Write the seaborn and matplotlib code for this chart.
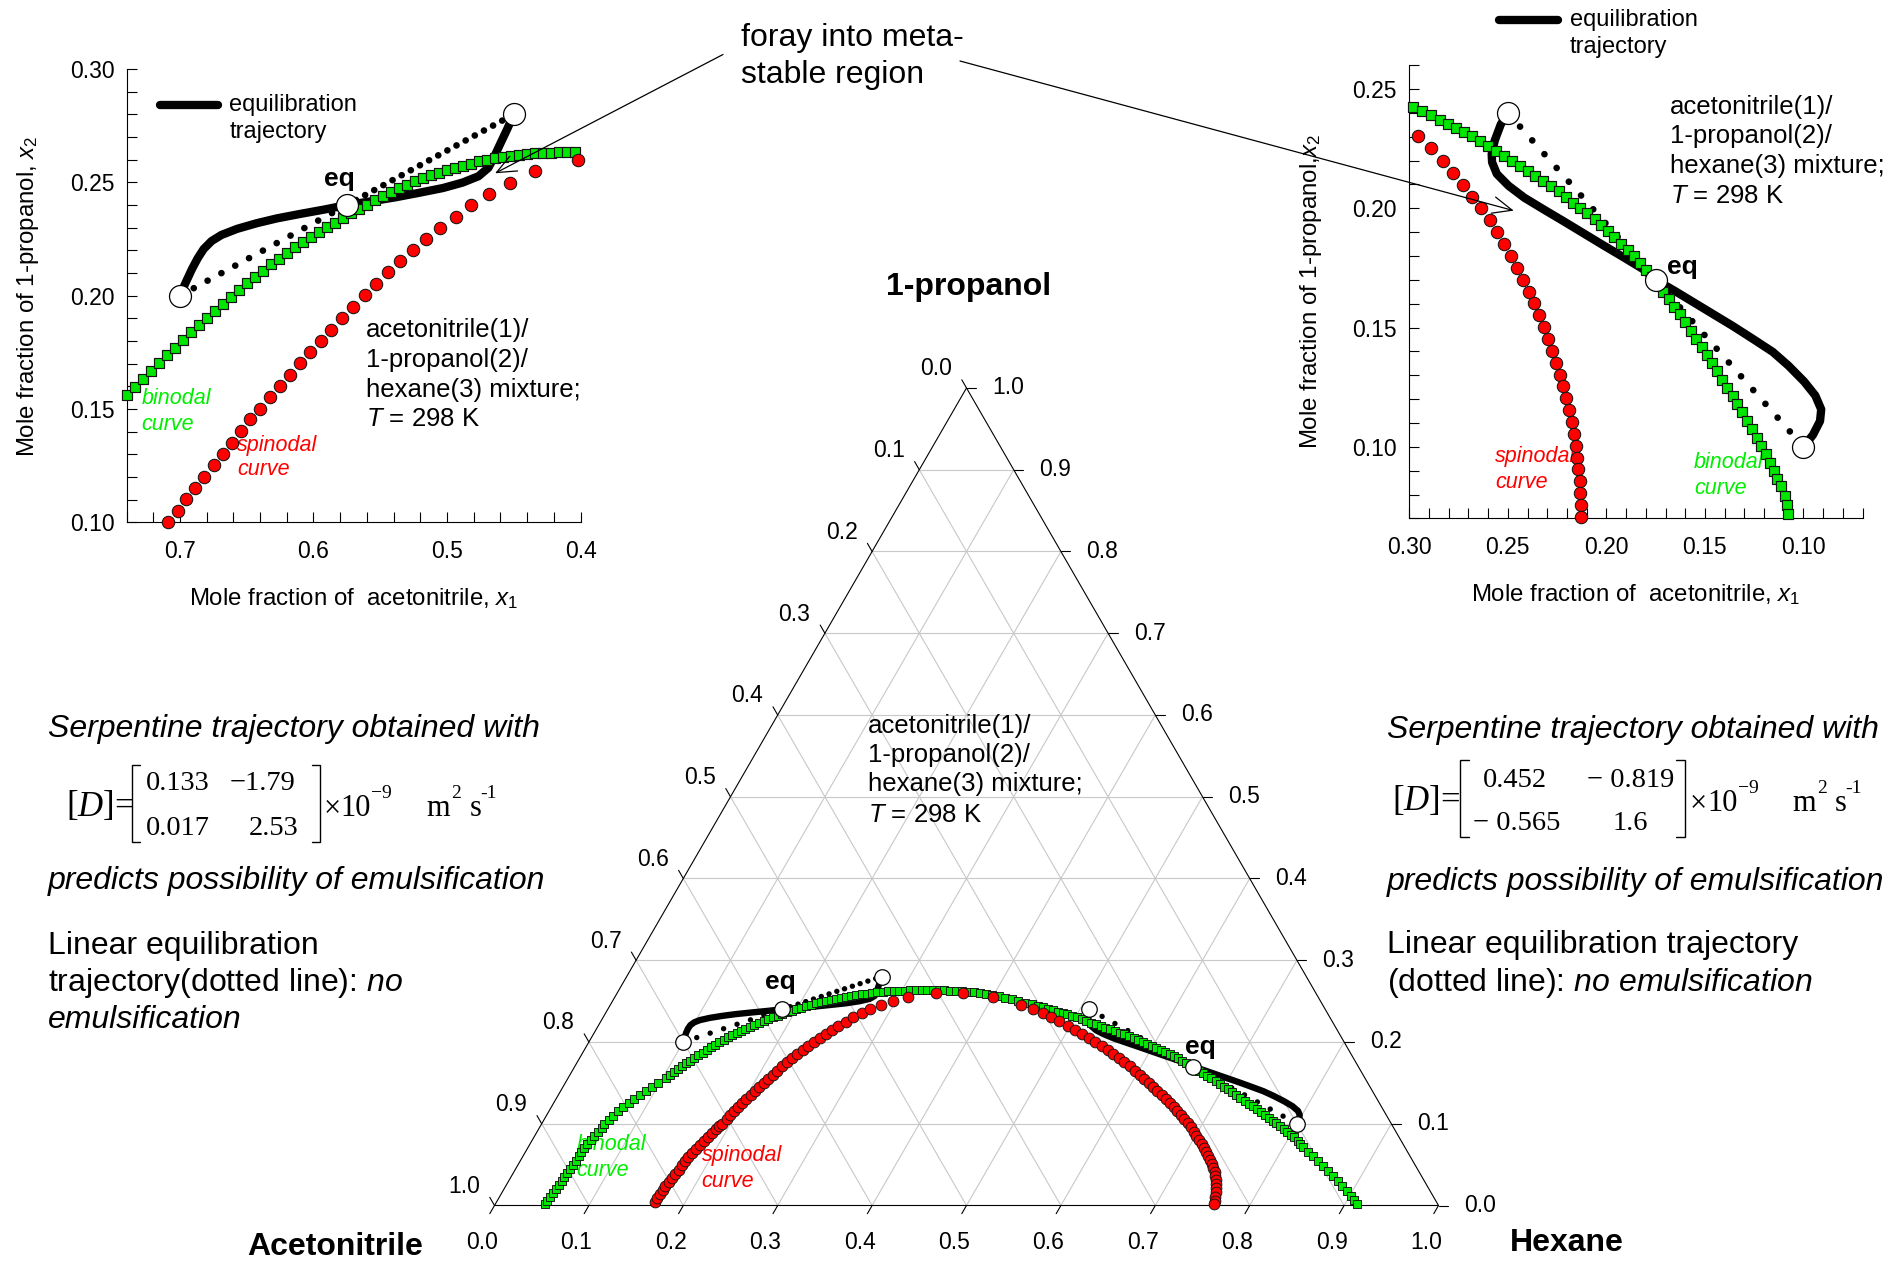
import numpy as np
import pandas as pd
import matplotlib
matplotlib.use("Agg")
import matplotlib.pyplot as plt
from matplotlib.lines import Line2D
from matplotlib.patches import ConnectionPatch
from matplotlib.ticker import MultipleLocator
import seaborn as sns

# ---------------- data (mole fractions x1 = acetonitrile, x2 = 1-propanol) ----------------
binodal_x1 = [0.946, 0.941, 0.936, 0.930, 0.925, 0.919, 0.914, 0.9085, 0.903, 0.897, 0.892, 0.886,
              0.881, 0.876, 0.870, 0.864, 0.858, 0.852, 0.8455, 0.839, 0.8335, 0.8265, 0.8195, 0.812,
              0.804, 0.7955, 0.787, 0.7785, 0.7695, 0.7605, 0.7515,
              0.740, 0.734, 0.728, 0.722, 0.716, 0.710, 0.704, 0.698, 0.692, 0.686, 0.680, 0.674,
              0.668, 0.662, 0.656, 0.650, 0.644, 0.638, 0.632, 0.626, 0.620, 0.614, 0.608, 0.602,
              0.596, 0.590, 0.584, 0.578, 0.572, 0.566, 0.560, 0.554, 0.548, 0.542, 0.536, 0.530,
              0.524, 0.518, 0.512, 0.506, 0.500, 0.494, 0.488, 0.482, 0.476, 0.470, 0.464, 0.458,
              0.452, 0.446, 0.440, 0.434, 0.428, 0.422, 0.416, 0.410, 0.404,
              0.398, 0.392, 0.386, 0.380, 0.374, 0.368, 0.362, 0.356, 0.350, 0.344, 0.338, 0.332,
              0.326, 0.320, 0.314, 0.308, 0.302,
              0.298, 0.2936, 0.289, 0.2846, 0.2806, 0.2762, 0.272, 0.268, 0.264, 0.260, 0.256, 0.252,
              0.248, 0.244, 0.240, 0.236, 0.232, 0.228, 0.224, 0.2204, 0.2168, 0.2132, 0.2096, 0.206,
              0.2026, 0.1992, 0.196, 0.1924, 0.1892, 0.186, 0.183, 0.180, 0.177, 0.174, 0.1712, 0.1684,
              0.1656, 0.1628, 0.160, 0.1572, 0.1544, 0.1516, 0.1492, 0.1466, 0.144, 0.1412, 0.1386,
              0.136, 0.1336, 0.1312, 0.1286, 0.1262, 0.1236, 0.1216, 0.1192, 0.117, 0.1152, 0.1132,
              0.1112, 0.1096, 0.1086, 0.1076,
              0.1055, 0.1030, 0.1005, 0.0980, 0.0957, 0.0935, 0.0915, 0.0897, 0.0882, 0.0870, 0.0862,
              0.0856]
binodal_x2 = [0.002, 0.006, 0.010, 0.015, 0.020, 0.025, 0.030, 0.035, 0.040, 0.045, 0.050, 0.055,
              0.060, 0.065, 0.070, 0.075, 0.080, 0.085, 0.090, 0.095, 0.100, 0.105, 0.110, 0.115,
              0.120, 0.125, 0.130, 0.135, 0.140, 0.145, 0.150,
              0.1563, 0.1598, 0.1633, 0.1668, 0.1703, 0.1737, 0.1771, 0.1805, 0.1838, 0.1871, 0.1903,
              0.1934, 0.1965, 0.1996, 0.2026, 0.2055, 0.2083, 0.2111, 0.2138, 0.2164, 0.2189, 0.2213,
              0.2236, 0.2258, 0.2280, 0.2301, 0.2322, 0.2343, 0.2363, 0.2383, 0.2402, 0.2421, 0.2439,
              0.2456, 0.2473, 0.2489, 0.2504, 0.2518, 0.2531, 0.2543, 0.2554, 0.2564, 0.2574, 0.2583,
              0.2592, 0.2600, 0.2607, 0.2613, 0.2618, 0.2622, 0.2625, 0.2628, 0.2630, 0.2631, 0.2632,
              0.2632, 0.2632,
              0.2631, 0.2630, 0.2628, 0.2625, 0.2621, 0.2615, 0.2608, 0.2599, 0.2588, 0.2575, 0.2560,
              0.2543, 0.2524, 0.2503, 0.2482, 0.2460, 0.2440,
              0.2425, 0.2409, 0.2389, 0.2371, 0.2354, 0.2338, 0.2319, 0.2301, 0.2280, 0.2260, 0.2238,
              0.2218, 0.2197, 0.2177, 0.2155, 0.2134, 0.2114, 0.2094, 0.2071, 0.2047, 0.2024, 0.2003,
              0.1978, 0.1953, 0.1928, 0.1903, 0.1878, 0.1850, 0.1824, 0.1799, 0.1771, 0.1743, 0.1713,
              0.1683, 0.1650, 0.1620, 0.1588, 0.1555, 0.1522, 0.1487, 0.1454, 0.1419, 0.1384, 0.1351,
              0.1318, 0.1282, 0.1245, 0.1212, 0.1179, 0.1144, 0.1108, 0.1075, 0.1038, 0.1005, 0.0970,
              0.0934, 0.0900, 0.0867, 0.0834, 0.0793, 0.0755, 0.0718,
              0.066, 0.060, 0.054, 0.048, 0.042, 0.036, 0.030, 0.024, 0.018, 0.012, 0.007, 0.002]

spinodal_x1 = [0.828, 0.823, 0.818, 0.8125, 0.807, 0.801, 0.795, 0.789, 0.783, 0.777, 0.771, 0.765,
               0.7585, 0.752, 0.7455, 0.739, 0.732, 0.725, 0.718, 0.7135,
               0.7089, 0.7015, 0.6956, 0.6887, 0.6816, 0.6748, 0.6680, 0.6609, 0.6541, 0.6473, 0.6399,
               0.6325, 0.6254, 0.6177, 0.6103, 0.6023, 0.5943, 0.5866, 0.5786, 0.5703, 0.5617, 0.5528,
               0.5439, 0.5351, 0.5256, 0.5155, 0.5052, 0.4936, 0.4818, 0.4682, 0.4528, 0.4344, 0.4018,
               0.3733, 0.3446, 0.3191, 0.3093, 0.3012,
               0.2956, 0.2890, 0.2830, 0.2776, 0.2730, 0.2682, 0.2636, 0.2592, 0.2556, 0.2522, 0.2486,
               0.2456, 0.2422, 0.2392, 0.2366, 0.2340, 0.2316, 0.2296, 0.2276, 0.2256, 0.2236, 0.2220,
               0.2204, 0.2190, 0.2176, 0.2166, 0.2156, 0.2148, 0.2142, 0.2136, 0.2132, 0.2130, 0.2128,
               0.2129, 0.2132, 0.2137, 0.2144, 0.2154, 0.2167, 0.2183, 0.2202, 0.2224, 0.2249, 0.2277,
               0.2308, 0.2342, 0.2372]
spinodal_x2 = [0.004, 0.009, 0.014, 0.019, 0.024, 0.029, 0.034, 0.039, 0.044, 0.049, 0.054, 0.059,
               0.064, 0.069, 0.074, 0.079, 0.084, 0.089, 0.094, 0.097,
               0.1000, 0.1052, 0.1104, 0.1153, 0.1202, 0.1251, 0.1303, 0.1352, 0.1403, 0.1454, 0.1502,
               0.1553, 0.1602, 0.1651, 0.1703, 0.1752, 0.1801, 0.1850, 0.1900, 0.1949, 0.2002, 0.2051,
               0.2103, 0.2152, 0.2201, 0.2250, 0.2300, 0.2349, 0.2398, 0.2450, 0.2499, 0.2548, 0.2600,
               0.2603, 0.2554, 0.2453, 0.2400, 0.2351,
               0.2301, 0.2251, 0.2197, 0.2147, 0.2097, 0.2049, 0.1999, 0.1950, 0.1900, 0.1850, 0.1800,
               0.1751, 0.1701, 0.1651, 0.1602, 0.1552, 0.1502, 0.1452, 0.1403, 0.1353, 0.1303, 0.1254,
               0.1204, 0.1154, 0.1104, 0.1055, 0.1005, 0.0955, 0.0905, 0.0856, 0.0806, 0.0756, 0.0707,
               0.066, 0.061, 0.056, 0.051, 0.046, 0.041, 0.036, 0.031, 0.026, 0.021, 0.016,
               0.011, 0.006, 0.002]

# serpentine equilibration trajectories
traj1_x1 = [0.700, 0.6956, 0.6911, 0.6867, 0.6822, 0.6763, 0.6689, 0.6571, 0.6423, 0.6274, 0.6097,
            0.5919, 0.575, 0.5593, 0.5386, 0.5208, 0.503, 0.4883, 0.4764, 0.469, 0.4646, 0.4601,
            0.4548, 0.450]
traj1_x2 = [0.200, 0.2059, 0.2116, 0.2165, 0.2206, 0.2241, 0.2268, 0.2295, 0.2320, 0.2341, 0.2361,
            0.2380, 0.2400, 0.2414, 0.2434, 0.2454, 0.2475, 0.2499, 0.2527, 0.2564, 0.2613, 0.2670,
            0.2736, 0.2800]
traj2_x1 = [0.250, 0.2536, 0.2566, 0.2582, 0.2580, 0.2556, 0.2496, 0.2416, 0.2316, 0.2216, 0.2116,
            0.2016, 0.1916, 0.1816, 0.175, 0.1656, 0.1556, 0.1456, 0.1356, 0.1256, 0.1156, 0.1076,
            0.0996, 0.0940, 0.0910, 0.0916, 0.0952, 0.100]
traj2_x2 = [0.240, 0.2351, 0.2285, 0.2227, 0.2193, 0.2144, 0.2094, 0.2044, 0.1994, 0.1945, 0.1895,
            0.1845, 0.1796, 0.1746, 0.1700, 0.1655, 0.1605, 0.1555, 0.1505, 0.1452, 0.1398, 0.1340,
            0.1273, 0.1215, 0.1157, 0.1108, 0.1050, 0.100]

# linear trajectories: start, eq, end
lin1_x1 = [0.70, 0.575, 0.45]
lin1_x2 = [0.20, 0.24, 0.28]
lin2_x1 = [0.25, 0.175, 0.10]
lin2_x2 = [0.24, 0.17, 0.10]

left_xticks = [0.7, 0.6, 0.5, 0.4]
left_yticks = [0.10, 0.15, 0.20, 0.25, 0.30]
right_xticks = [0.30, 0.25, 0.20, 0.15, 0.10]
right_yticks = [0.10, 0.15, 0.20, 0.25]
tern_ticks = [0.0, 0.1, 0.2, 0.3, 0.4, 0.5, 0.6, 0.7, 0.8, 0.9, 1.0]
tern_grid = [0.1, 0.2, 0.3, 0.4, 0.5, 0.6, 0.7, 0.8, 0.9]

D_left = [["0.133", "\u22121.79"], ["0.017", "2.53"]]
D_right = [["0.452", "\u2212 0.819"], ["\u2212 0.565", "1.6"]]

# ---------------- style ----------------
W, H, DPI = 1898, 1261, 100
sns.set_theme(style="ticks")
plt.rcParams["font.family"] = ["Liberation Sans", "DejaVu Sans"]
plt.rcParams["mathtext.fontset"] = "custom"
plt.rcParams["mathtext.rm"] = "Liberation Sans"
plt.rcParams["mathtext.it"] = "Liberation Sans:italic"
plt.rcParams["mathtext.bf"] = "Liberation Sans:bold"
for k in ["text.color", "axes.labelcolor", "xtick.color", "ytick.color", "axes.edgecolor"]:
    plt.rcParams[k] = "black"

SERIF = ["Liberation Serif", "DejaVu Serif"]
GREEN = "#00e600"
GTXT = "#00ee00"
RED = "#ff0000"
EDGE = "#141414"

fig = plt.figure(figsize=(W / DPI, H / DPI), dpi=DPI)
fig.patch.set_facecolor("white")


def fx(x):
    return x / W


def fy(y):
    return 1.0 - y / H


def box(l, t, r, b):
    return [fx(l), fy(b), (r - l) / W, (b - t) / H]


def ftext(x, y, s, **kw):
    kw.setdefault("ha", "left")
    kw.setdefault("va", "center")
    return fig.text(fx(x), fy(y), s, **kw)


bino = pd.DataFrame({"x1": binodal_x1, "x2": binodal_x2})
spin = pd.DataFrame({"x1": spinodal_x1, "x2": spinodal_x2})


def in_box(df, xlim, ylim):
    e = 1e-9
    return df[(df.x1 >= min(xlim) - e) & (df.x1 <= max(xlim) + e) &
              (df.x2 >= ylim[0] - e) & (df.x2 <= ylim[1] + e)]


def draw_inset(ax, xlim, ylim, xt, yt, xminor, yminor, xfmt, yfmt,
               tx1, tx2, lx1, lx2, gaps):
    ax.set_xlim(*xlim)
    ax.set_ylim(*ylim)
    b = in_box(bino, xlim, ylim)
    s = in_box(spin, xlim, ylim)
    for i, g in enumerate(gaps):
        ax.plot(lx1[i:i + 2], lx2[i:i + 2], color="black", lw=4.8,
                linestyle=(0, (0.01, g)), dash_capstyle="round", zorder=2, clip_on=False)
    sns.lineplot(x=tx1, y=tx2, sort=False, estimator=None, ax=ax, color="black", lw=6.0,
                 solid_capstyle="round", solid_joinstyle="round", zorder=3)
    sns.scatterplot(x=b.x1.values, y=b.x2.values, ax=ax, marker="s", s=44, color=GREEN,
                    edgecolor=EDGE, linewidth=0.85, zorder=4, clip_on=False, legend=False)
    sns.scatterplot(x=s.x1.values, y=s.x2.values, ax=ax, marker="o", s=80, color=RED,
                    edgecolor=EDGE, linewidth=0.75, zorder=5, clip_on=False, legend=False)
    sns.scatterplot(x=lx1, y=lx2, ax=ax, marker="o", s=250, color="white",
                    edgecolor="black", linewidth=0.9, zorder=6, clip_on=False, legend=False)
    ax.set_xlabel("")
    ax.set_ylabel("")
    ax.set_xticks(xt)
    ax.set_xticklabels([xfmt.format(v) for v in xt])
    ax.set_yticks(yt)
    ax.set_yticklabels([yfmt.format(v) for v in yt])
    ax.xaxis.set_minor_locator(MultipleLocator(xminor))
    ax.yaxis.set_minor_locator(MultipleLocator(yminor))
    ax.tick_params(which="both", direction="in", length=7.5, width=0.8, color="black",
                   labelsize=16.5, labelcolor="black")
    ax.tick_params(axis="x", which="both", pad=12.5)
    ax.tick_params(axis="y", which="both", pad=8.8)
    sns.despine(ax=ax)
    for sp in ["left", "bottom"]:
        ax.spines[sp].set_linewidth(0.8)
        ax.spines[sp].set_color("black")
    ax.patch.set_alpha(0)


# ---------------- left inset ----------------
ax_l = fig.add_axes(box(126.5, 69, 580.5, 522.4))
draw_inset(ax_l, (0.74, 0.40), (0.10, 0.30), left_xticks, left_yticks, 0.02, 0.01,
           "{:.1f}", "{:.2f}", traj1_x1, traj1_x2, lin1_x1, lin1_x2, (2.35, 1.55))
ax_l.text(0.5807, 0.2516, "eq", ha="center", va="center", fontsize=19, fontweight="bold", zorder=7)

# ---------------- right inset ----------------
ax_r = fig.add_axes(box(1409.3, 65.1, 1862.6, 518.4))
draw_inset(ax_r, (0.30, 0.07), (0.07, 0.26), right_xticks, right_yticks, 0.01, 0.01,
           "{:.2f}", "{:.2f}", traj2_x1, traj2_x2, lin2_x1, lin2_x2, (2.75, 2.75))
ax_r.text(0.1616, 0.1754, "eq", ha="center", va="center", fontsize=19, fontweight="bold", zorder=7)

# axis labels of the insets
ftext(353.5, 598.6, r"Mole fraction of  acetonitrile, $x_1$", ha="center", fontsize=17.3)
ftext(28.5, 296, r"Mole fraction of 1-propanol, $x_2$", ha="center", fontsize=17.3, rotation=90)
ftext(1635.6, 595, r"Mole fraction of  acetonitrile, $x_1$", ha="center", fontsize=17.3)
ftext(1310.5, 291.6, r"Mole fraction of 1-propanol,$x_2$", ha="center", fontsize=17.3, rotation=90)


def curve_labels(ax, pos_b, pos_s, size=15.5):
    for (x, y), s in zip(pos_b, ["binodal", "curve"]):
        ax.text(fx(x), fy(y), s, transform=fig.transFigure, color=GTXT, style="italic",
                fontsize=size, ha="left", va="center", zorder=1.5)
    for (x, y), s in zip(pos_s, ["spinodal", "curve"]):
        ax.text(fx(x), fy(y), s, transform=fig.transFigure, color=RED, style="italic",
                fontsize=size, ha="left", va="center", zorder=1.5)


curve_labels(ax_l, [(141.6, 398.9), (141.6, 424.8)], [(237.2, 445.1), (237.2, 469.1)])
curve_labels(ax_r, [(1693.9, 462.6), (1693.9, 488.3)], [(1494.8, 456.7), (1494.8, 482.4)])

# legends "equilibration trajectory"
for (x0, x1_, y, tx, ty1, ty2) in [(160, 217.5, 104.7, 229.3, 104.7, 131.7),
                                   (1498.8, 1557.9, 19.8, 1569.7, 19.8, 47.4)]:
    fig.add_artist(Line2D([fx(x0), fx(x1_)], [fy(y), fy(y)], color="black", lw=6.0,
                          solid_capstyle="round"))
    ftext(tx, ty1, "equilibration", fontsize=17)
    ftext(tx, ty2, "trajectory", fontsize=17)

# mixture text blocks
mix_lines = ["acetonitrile(1)/", "1-propanol(2)/", "hexane(3) mixture;", r"$\mathit{T}$ = 298 K"]
for x0, ys in [(365.8, (330.4, 360.0, 389.6, 419.2)),
               (1670.2, (106.8, 136.4, 166.0, 195.7)),
               (868.0, (726.3, 755.4, 784.4, 814.7))]:
    for y, s in zip(ys, mix_lines):
        ftext(x0, y, s, fontsize=18.5)

# ---------------- ternary diagram ----------------
S3 = np.sqrt(3) / 2
ax_t = fig.add_axes(box(494.5, 1205.5 - 944 * S3, 1438.5, 1205.5))
ax_t.set_xlim(0, 1)
ax_t.set_ylim(0, S3)
ax_t.axis("off")


def txy(x1, x2):
    x1 = np.asarray(x1, dtype=float)
    x2 = np.asarray(x2, dtype=float)
    return 1.0 - x1 - x2 / 2.0, x2 * S3


GRID = "#c8c8c8"
for v in tern_grid:
    for a1, a2 in [([1 - v, 0], [v, v]), ([v, v], [0, 1 - v]), ([1 - v, 0], [0, 1 - v])]:
        X, Y = txy(a1, a2)
        ax_t.plot(X, Y, color=GRID, lw=0.8, zorder=1)
X, Y = txy([1, 0, 0, 1], [0, 0, 1, 0])
ax_t.plot(X, Y, color="black", lw=0.8, zorder=2, clip_on=False)

TL = 0.0100
for v in tern_ticks:
    lab = f"{v:.1f}"
    # bottom axis: hexane fraction
    bx, by = txy(1 - v, 0)
    ax_t.plot([bx, bx - 0.5 * TL], [by, by - S3 * TL], color="black", lw=0.8, clip_on=False)
    ax_t.annotate(lab, xy=(bx, by), xytext=(-9.0, -26.3), textcoords="offset points",
                  ha="center", va="center", fontsize=16.5, annotation_clip=False)
    # left axis: acetonitrile fraction
    lx, ly = txy(v, 1 - v)
    ax_t.plot([lx, lx - 0.5 * TL], [ly, ly + S3 * TL], color="black", lw=0.8, clip_on=False)
    ax_t.annotate(lab, xy=(lx, ly), xytext=(-22.0, 13.7), textcoords="offset points",
                  ha="center", va="center", fontsize=16.5, annotation_clip=False)
    # right axis: 1-propanol fraction
    rx, ry = txy(0, v)
    ax_t.plot([rx, rx + TL], [ry, ry], color="black", lw=0.8, clip_on=False)
    ax_t.annotate(lab, xy=(rx, ry), xytext=(29.9, 0), textcoords="offset points",
                  ha="center", va="center", fontsize=16.5, annotation_clip=False)

for lx1, lx2, gaps in [(lin1_x1, lin1_x2, (2.6, 1.5)), (lin2_x1, lin2_x2, (2.7, 2.7))]:
    X, Y = txy(lx1, lx2)
    for i, g in enumerate(gaps):
        ax_t.plot(X[i:i + 2], Y[i:i + 2], color="black", lw=3.9, linestyle=(0, (0.01, g)),
                  dash_capstyle="round", zorder=2.5, clip_on=False)
for tx1, tx2 in [(traj1_x1, traj1_x2), (traj2_x1, traj2_x2)]:
    X, Y = txy(tx1, tx2)
    sns.lineplot(x=X, y=Y, sort=False, estimator=None, ax=ax_t, color="black", lw=4.6,
                 solid_capstyle="round", solid_joinstyle="round", zorder=3)

bX, bY = txy(bino.x1, bino.x2)
sns.scatterplot(x=bX, y=bY, ax=ax_t, marker="s", s=34, color=GREEN, edgecolor=EDGE,
                linewidth=0.65, zorder=4, clip_on=False, legend=False)
sX, sY = txy(spin.x1, spin.x2)
sns.scatterplot(x=sX, y=sY, ax=ax_t, marker="o", s=60, color=RED, edgecolor=EDGE,
                linewidth=0.65, zorder=5, clip_on=False, legend=False)
for lx1, lx2 in [(lin1_x1, lin1_x2), (lin2_x1, lin2_x2)]:
    X, Y = txy(lx1, lx2)
    sns.scatterplot(x=X, y=Y, ax=ax_t, marker="o", s=125, color="white", edgecolor="black",
                    linewidth=0.9, zorder=6, clip_on=False, legend=False)
for ex1, ex2 in [(0.5607, 0.2738), (0.155, 0.1943)]:
    X, Y = txy(ex1, ex2)
    ax_t.text(float(X), float(Y), "eq", ha="center", va="center", fontsize=19,
              fontweight="bold", zorder=7)
ax_t.set_xlabel("")
ax_t.set_ylabel("")
curve_labels(ax_t, [(576.7, 1145), (576.7, 1170)], [(701.7, 1155), (701.7, 1181.7)])

ftext(968.4, 287, "1-propanol", ha="center", fontsize=23, fontweight="bold")
ftext(247, 1247, "Acetonitrile", fontsize=23, fontweight="bold")
ftext(1510, 1243, "Hexane", fontsize=23, fontweight="bold")

# ---------------- annotation: foray into metastable region ----------------
ftext(741, 38, "foray into meta-", fontsize=23)
ftext(741, 75, "stable region", fontsize=23)
for (ax0, ay0), ax_, xyB in [((723, 54.5), ax_l, (0.464, 0.254)),
                             ((960, 61), ax_r, (0.247, 0.199))]:
    con = ConnectionPatch(xyA=(ax0, H - ay0), coordsA="figure pixels", xyB=xyB,
                          coordsB=ax_.transData, arrowstyle="->,head_length=0.7,head_width=0.3",
                          mutation_scale=20, lw=0.9, color="black")
    fig.add_artist(con)

# ---------------- explanatory texts ----------------
IT = dict(fontsize=23, style="italic")
ftext(48, 729, "Serpentine trajectory obtained with", **IT)
ftext(48, 881.5, "predicts possibility of emulsification", **IT)
ftext(48, 946, "Linear equilibration", fontsize=23)
ftext(48, 983, r"trajectory(dotted line): $\mathit{no}$", fontsize=23)
ftext(48, 1020, "emulsification", **IT)

ftext(1387, 730, "Serpentine trajectory obtained with", **IT)
ftext(1387, 881.7, "predicts possibility of emulsification", **IT)
ftext(1387, 945, "Linear equilibration trajectory", fontsize=23)
ftext(1387, 983, r"(dotted line): $\mathit{no\ emulsification}$", fontsize=23)

# ---------------- diffusivity matrices ----------------
renderer = fig.canvas.get_renderer()


def stext(x, y, s, size, style="normal"):
    return fig.text(fx(x), fy(y), s, fontsize=size, style=style, family=SERIF,
                    ha="left", va="baseline")


def seq(x, y, parts):
    for s, size, style, dy in parts:
        t = stext(x, y + dy, s, size, style)
        x += t.get_window_extent(renderer=renderer).width


def bracket(x, top, bot, serif):
    xs = [x + serif, x, x, x + serif]
    fig.add_artist(Line2D([fx(v) for v in xs], [fy(top), fy(top), fy(bot), fy(bot)],
                          color="black", lw=1.0, solid_joinstyle="miter"))


def matrix(D, x0, base, row_y, col_x, br, times_x, m_x, s_x):
    seq(x0, base, [("[", 25, "normal", 0), ("D", 25, "italic", 0), ("]", 25, "normal", 0),
                   ("=", 25, "normal", 0)])
    for r in range(2):
        for c in range(2):
            stext(col_x[r][c], row_y[r], D[r][c], 20.5)
    bracket(br[0], br[2], br[3], 8.5)
    bracket(br[1], br[2], br[3], -8.5)
    seq(times_x, base + 1, [("\u00d7", 22, "normal", 0), ("10", 22, "normal", 0),
                            ("\u22129", 14, "normal", -18)])
    stext(m_x, base + 1, "m", 22)
    stext(m_x + 24.5, base - 17, "2", 14)
    stext(s_x, base + 1, "s", 22)
    stext(s_x + 10, base - 17, "-1", 14)


matrix(D_left, 66, 815.5, (790, 835), ((146, 230), (146, 248.3)),
       (131.7, 320, 765, 841.7), 323.3, 426.7, 470)
matrix(D_right, 1392, 810, (786.7, 830), ((1482.8, 1587.2), (1472.7, 1612.4)),
       (1460.2, 1684.8, 760, 836.7), 1689.9, 1792.6, 1835)

fig.savefig("out.png", dpi=DPI, facecolor="white")
